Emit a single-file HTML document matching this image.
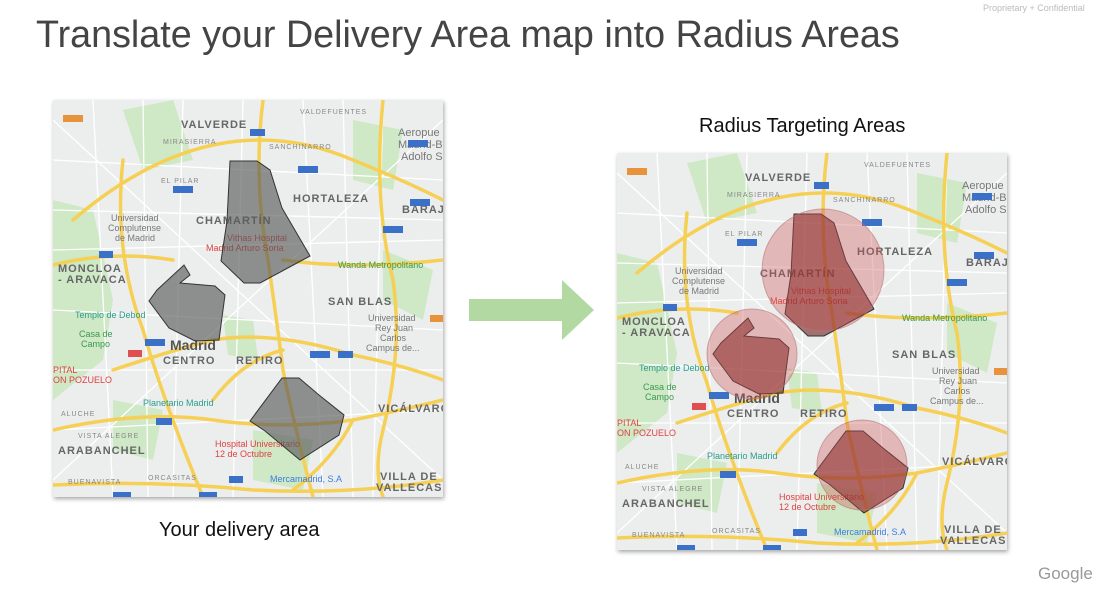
<!DOCTYPE html>
<html><head><meta charset="utf-8"><style>
body{margin:0;width:1109px;height:598px;background:#fff;position:relative;overflow:hidden;font-family:"Liberation Sans",sans-serif}
.t{position:absolute;white-space:nowrap}
</style></head><body>
<div class="t" style="left:983px;top:3px;font-size:9px;color:#bbb">Proprietary + Confidential</div>
<div class="t" style="left:36px;top:13px;font-size:37.7px;color:#444">Translate your Delivery Area map into Radius Areas</div>
<div class="t" style="left:699px;top:115px;font-size:20px;color:#111">Radius Targeting Areas</div>
<div class="t" style="left:159px;top:519px;font-size:20px;color:#111">Your delivery area</div>
<div class="t" style="left:1038px;top:564px;font-size:17px;color:#999">Google</div>
<svg width="1109" height="598" style="position:absolute;left:0;top:0">
<defs>
<filter id="sh" x="-5%" y="-5%" width="110%" height="110%"><feDropShadow dx="1" dy="2" stdDeviation="2" flood-opacity="0.35"/></filter>
<clipPath id="cp"><rect width="390" height="397"/></clipPath>
<g id="base" clip-path="url(#cp)">
<rect width="390" height="397" fill="#eceeee"/>
<g fill="#cfe8c6">
<path d="M0 100 L40 110 L60 200 L50 260 L0 300Z"/><path d="M70 10 L120 0 L140 60 L90 70Z"/><path d="M300 20 L350 30 L340 90 L300 80Z"/><path d="M170 215 L200 220 L205 260 L175 255Z"/><path d="M330 150 L380 170 L370 220 L330 200Z"/><path d="M200 330 L260 340 L250 390 L200 380Z"/><path d="M60 300 L110 310 L100 360 L60 350Z"/>
</g>
<g stroke="#fff" stroke-width="1.3" fill="none">
<path d="M0 60 L390 80 M0 150 L390 140 M0 210 L390 230 M0 330 L390 310 M40 0 L60 397 M130 0 L120 397 M250 0 L270 397 M330 0 L320 397 M0 20 L390 380 M0 380 L390 20 M190 0 L180 397 M0 270 L390 270 M0 110 L390 120 M90 0 L95 397 M290 0 L300 397"/>
</g>
<g stroke="#f6cf55" stroke-width="3.5" fill="none" stroke-linecap="round">
<path d="M20 120 Q90 60 160 45 Q230 30 300 60 Q350 80 390 100"/>
<path d="M0 165 Q60 150 120 160"/>
<path d="M210 0 Q200 80 215 160 Q225 230 230 270 Q240 320 260 397"/>
<path d="M60 270 Q120 250 160 240 Q220 230 300 255 Q350 265 390 280"/>
<path d="M0 330 Q90 310 160 320 Q230 330 300 320 Q350 310 390 300"/>
<path d="M70 60 Q60 150 90 230 Q110 300 150 397"/>
<path d="M330 0 Q320 100 340 180 Q350 250 330 330 Q320 370 330 397"/>
<path d="M160 300 Q190 260 230 250"/>
<path d="M240 390 Q280 360 300 320"/>
<path d="M0 385 Q100 380 200 390 Q300 395 390 380"/>
<path d="M230 160 Q300 170 390 160"/>
</g>
<g font-family="Liberation Sans" font-weight="bold" fill="#666" font-size="11" letter-spacing="1">
<text x="128" y="28">VALVERDE</text><text x="240" y="102">HORTALEZA</text><text x="143" y="124">CHAMARTÍN</text><text x="349" y="113">BARAJA</text>
<text x="5" y="172">MONCLOA</text><text x="5" y="183">- ARAVACA</text><text x="275" y="205">SAN BLAS</text>
<text x="110" y="264">CENTRO</text><text x="183" y="264">RETIRO</text><text x="325" y="312">VICÁLVARO</text>
<text x="5" y="354">ARABANCHEL</text><text x="327" y="380">VILLA DE</text><text x="323" y="391">VALLECAS</text>
</g>
<text x="117" y="250" font-family="Liberation Sans" font-weight="bold" fill="#555" font-size="14">Madrid</text>
<g font-family="Liberation Sans" fill="#888" font-size="7" letter-spacing="1"><text x="110" y="44">MIRASIERRA</text><text x="216" y="49">SANCHINARRO</text><text x="108" y="83">EL PILAR</text><text x="247" y="14">VALDEFUENTES</text><text x="8" y="316">ALUCHE</text><text x="25" y="338">VISTA ALEGRE</text><text x="95" y="380">ORCASITAS</text><text x="15" y="384">BUENAVISTA</text></g>
<g font-family="Liberation Sans" fill="#777" font-size="9"><text x="58" y="121">Universidad</text><text x="55" y="131">Complutense</text><text x="62" y="141">de Madrid</text><text x="315" y="221">Universidad</text><text x="322" y="231">Rey Juan</text><text x="327" y="241">Carlos</text><text x="313" y="251">Campus de...</text>
<text x="345" y="36" font-size="11">Aeropue</text><text x="345" y="48" font-size="11">Madrid-B</text><text x="348" y="60" font-size="11">Adolfo S</text></g>
<g font-family="Liberation Sans" fill="#2a9d8f" font-size="9"><text x="22" y="218">Templo de Debod</text><text x="90" y="306">Planetario Madrid</text><text x="217" y="382" fill="#3b7de0">Mercamadrid, S.A</text><text x="285" y="168" fill="#3a9a50">Wanda Metropolitano</text><text x="26" y="237" fill="#3a9a50">Casa de</text><text x="28" y="247" fill="#3a9a50">Campo</text></g>
<g font-family="Liberation Sans" fill="#e04040" font-size="9"><text x="174" y="141">Vithas Hospital</text><text x="153" y="151">Madrid Arturo Soria</text><text x="162" y="347">Hospital Universitario</text><text x="162" y="357">12 de Octubre</text><text x="0" y="273">PITAL</text><text x="0" y="283">ON POZUELO</text></g>
<g fill="#3b6fc8"><rect x="120" y="86" width="20" height="7"/><rect x="245" y="66" width="20" height="7"/><rect x="197" y="29" width="15" height="7"/><rect x="357" y="99" width="20" height="7"/><rect x="330" y="126" width="20" height="7"/><rect x="46" y="151" width="14" height="7"/><rect x="92" y="239" width="20" height="7"/><rect x="257" y="251" width="20" height="7"/><rect x="285" y="251" width="15" height="7"/><rect x="103" y="318" width="16" height="7"/><rect x="176" y="376" width="14" height="7"/><rect x="60" y="392" width="18" height="6"/><rect x="146" y="392" width="18" height="6"/><rect x="355" y="40" width="20" height="7"/></g>
<rect x="10" y="15" width="20" height="7" fill="#e8923a"/><rect x="75" y="250" width="14" height="7" fill="#e05050"/><rect x="377" y="215" width="13" height="7" fill="#e8923a"/>
</g>
</defs>
<g transform="translate(53,100)" filter="url(#sh)"><use href="#base"/></g>
<g transform="translate(53,100)" fill="rgba(90,90,90,0.65)" stroke="#333" stroke-width="1">
<path d="M177 61 L204 61 L217 70 L229 108 L257 156 L207 183 L191 183 L168 161 L174 121Z"/>
<path d="M131 165 L137 175 L127 183 L162 186 L172 195 L166 240 L142 241 L116 228 L96 201 L104 190Z"/>
<path d="M229 278 L246 278 L266 295 L291 315 L286 335 L247 360 L212 331 L197 321Z"/>
</g>
<g transform="translate(617,153)" filter="url(#sh)"><use href="#base"/></g>
<g transform="translate(617,153)" fill="rgba(110,30,30,0.6)" stroke="#333" stroke-width="1">
<path d="M177 61 L204 61 L217 70 L229 108 L257 156 L207 183 L191 183 L168 161 L174 121Z"/>
<path d="M131 165 L137 175 L127 183 L162 186 L172 195 L166 240 L142 241 L116 228 L96 201 L104 190Z"/>
<path d="M229 278 L246 278 L266 295 L291 315 L286 335 L247 360 L212 331 L197 321Z"/>
</g>
<g fill="rgba(205,80,80,0.35)" stroke="rgba(180,120,120,0.6)">
<circle cx="823" cy="270" r="61"/><circle cx="752" cy="354" r="45"/><circle cx="862" cy="465" r="45"/>
</g>
<path d="M469 299 L562 299 L562 280 L594 310 L562 340 L562 321 L469 321Z" fill="#b3d9a3"/>
</svg>
</body></html>
